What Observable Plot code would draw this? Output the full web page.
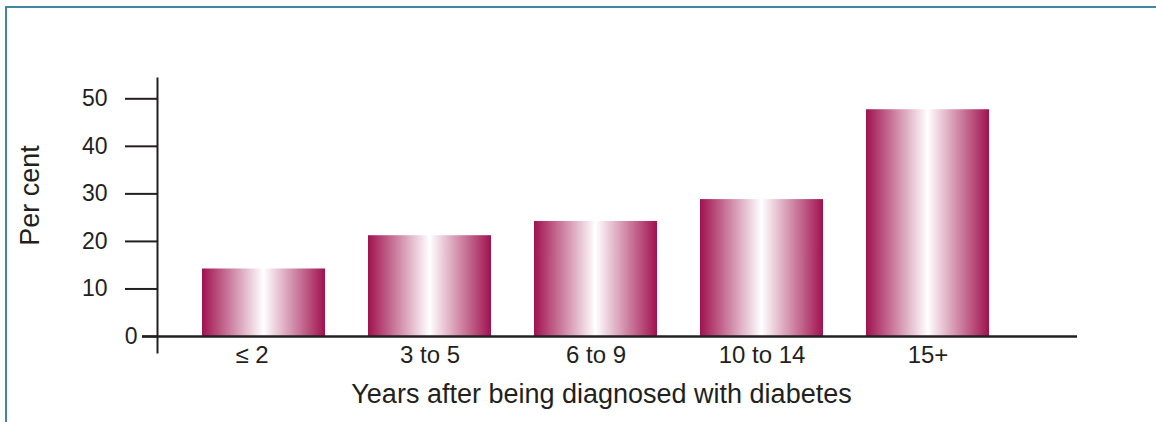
<!DOCTYPE html>
<html>
<head>
<meta charset="utf-8">
<script src="https://cdn.jsdelivr.net/npm/d3@7"></script>
<script src="https://cdn.jsdelivr.net/npm/@observablehq/plot@0.6"></script>
<style>
  html, body { margin: 0; padding: 0; background: #fff; }
  #wrap { position: relative; width: 1156px; height: 422px; overflow: hidden; }
  #border { position: absolute; left: 5px; top: 6px; right: -10px; bottom: -10px;
            border-top: 2px solid #3f86a2; border-left: 2px solid #3f86a2; }
  #chart { position: absolute; left: 0; top: 0; }
</style>
</head>
<body>
<div id="wrap"><div id="border"></div><div id="chart"></div></div>
<script>
const categories = ["≤ 2", "3 to 5", "6 to 9", "10 to 14", "15+"];
const values = [14.2, 21.2, 24.2, 28.8, 47.7];
const yTicks = [10, 20, 30, 40, 50];
const yLabel = "Per cent";
const xLabel = "Years after being diagnosed with diabetes";

const data = categories.map((c, i) => ({cat: c, val: values[i]}));
const ink = "#231f20";
const font = "'Liberation Sans', Arial, Helvetica, sans-serif";

const defs = () => {
  const d = d3.create("svg:defs");
  const g = d.append("linearGradient").attr("id", "barGrad")
    .attr("x1", "0").attr("x2", "1").attr("y1", "0").attr("y2", "0");
  g.append("stop").attr("offset", "0%").attr("stop-color", "#a0124f");
  g.append("stop").attr("offset", "50%").attr("stop-color", "#ffffff");
  g.append("stop").attr("offset", "100%").attr("stop-color", "#a0124f");
  return d.node();
};

const chart = Plot.plot({
  width: 1156,
  height: 422,
  marginLeft: 157,
  marginRight: 79,
  marginTop: 78,
  marginBottom: 70,
  style: {fontFamily: font, color: ink, background: "transparent", overflow: "visible"},
  x: {domain: categories, range: [156.4, 1034.4], padding: 0.2575, label: null},
  y: {domain: [0, 50], range: [336, 98.3], label: null},
  marks: [
    defs,
    Plot.barY(data, {x: "cat", y: "val", fill: "url(#barGrad)"}),
    Plot.frame({anchor: "left", stroke: ink, strokeWidth: 2}),
    Plot.ruleY([0], {stroke: ink, strokeWidth: 2.5, insetLeft: -15}),
    Plot.axisY({ticks: yTicks, tickSize: 32, tickPadding: 18, fontSize: 23, stroke: ink, strokeWidth: 2, fill: ink, label: null}),
    Plot.axisY({ticks: [0], tickSize: 15, tickPadding: 5, fontSize: 23, stroke: ink, strokeWidth: 2, fill: ink, label: null}),
    Plot.axisX({ticks: categories.slice(0, 1), dx: -12, tickSize: 0, tickPadding: -7, fontSize: 24, fill: ink, label: null}),
    Plot.axisX({ticks: categories.slice(1), tickSize: 0, tickPadding: -7, fontSize: 24, fill: ink, label: null}),
    Plot.text([yLabel], {frameAnchor: "left", dx: -127, dy: -20, rotate: -90, fontSize: 27, fill: ink, textAnchor: "middle", lineAnchor: "middle"}),
    Plot.text([xLabel], {frameAnchor: "bottom", dx: -16, dy: 31, fontSize: 27, fill: ink, textAnchor: "middle", lineAnchor: "top"})
  ]
});
document.getElementById("chart").appendChild(chart);
</script>
</body>
</html>
